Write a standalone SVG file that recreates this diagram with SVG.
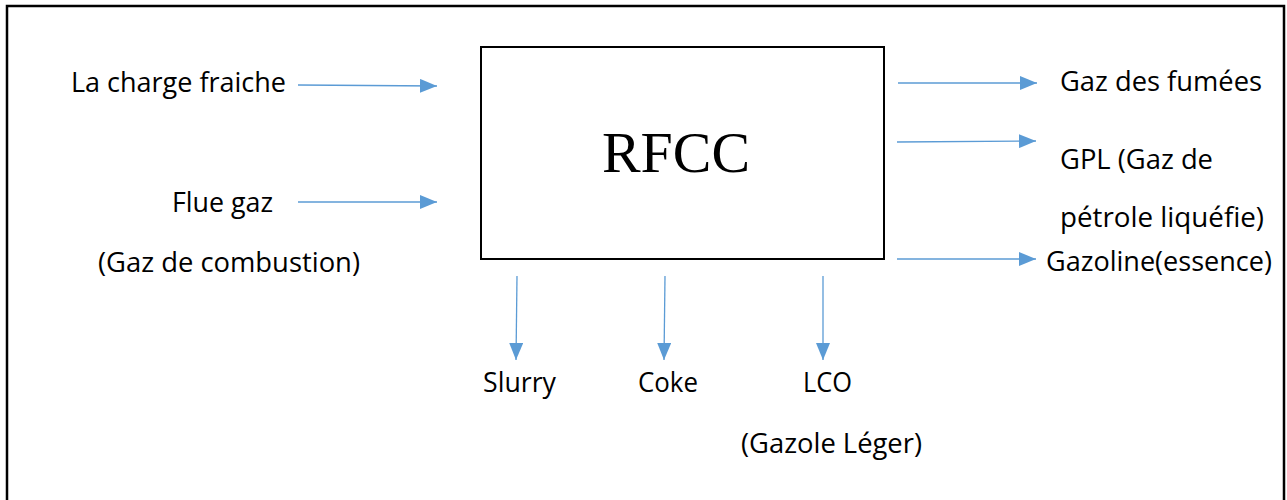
<svg xmlns="http://www.w3.org/2000/svg" width="1287" height="500" viewBox="0 0 1287 500">
  <style>
    .frame { fill: none; stroke: #000; stroke-width: 2.5; }
    .box { fill: #fff; stroke: #000; stroke-width: 2; }
    .flow { fill: none; stroke: #5B9BD5; stroke-width: 1.3; }
    .lbl { font-family: "Open Sans", "Noto Sans", sans-serif; font-size: 27px; fill: #000; }
    .title { font-family: "Liberation Serif", serif; font-size: 58px; fill: #000; }
  </style>
  <defs>
    <marker id="head" viewBox="0 0 17 14" refX="17" refY="7" markerWidth="17" markerHeight="14" markerUnits="userSpaceOnUse" orient="auto">
      <path d="M0,0 L17,7 L0,14 Z" fill="#5B9BD5"/>
    </marker>
  </defs>

  <rect width="1287" height="500" fill="#fff"/>
  <!-- outer border (open at the bottom edge) -->
  <path class="frame" d="M7,502 V6 H1284 V502"/>

  <g id="rfcc">
    <rect class="box" x="481" y="47" width="403" height="212"/>
    <text class="title" x="676" y="172" text-anchor="middle" textLength="148" lengthAdjust="spacingAndGlyphs">RFCC</text>
  </g>

  <g id="connectors">
    <line class="flow" x1="298" y1="85" x2="437" y2="86" marker-end="url(#head)"/>
    <line class="flow" x1="298" y1="202" x2="437" y2="202" marker-end="url(#head)"/>
    <line class="flow" x1="898" y1="83" x2="1037" y2="83" marker-end="url(#head)"/>
    <line class="flow" x1="897" y1="142" x2="1036" y2="141" marker-end="url(#head)"/>
    <line class="flow" x1="897" y1="259" x2="1036" y2="259" marker-end="url(#head)"/>
    <line class="flow" x1="517" y1="276" x2="516" y2="360" marker-end="url(#head)"/>
    <line class="flow" x1="665" y1="276" x2="664" y2="360" marker-end="url(#head)"/>
    <line class="flow" x1="823" y1="276" x2="823" y2="360" marker-end="url(#head)"/>
  </g>

  <g id="in-charge">
    <text class="lbl" x="71" y="92" textLength="215" lengthAdjust="spacingAndGlyphs">La charge fraiche</text>
  </g>
  <g id="in-flue">
    <text class="lbl" x="172" y="212" textLength="101" lengthAdjust="spacingAndGlyphs">Flue gaz</text>
    <text class="lbl" x="98" y="272" textLength="262" lengthAdjust="spacingAndGlyphs">(Gaz de combustion)</text>
  </g>
  <g id="out-fumees">
    <text class="lbl" x="1060" y="91" textLength="202" lengthAdjust="spacingAndGlyphs">Gaz des fumées</text>
  </g>
  <g id="out-gpl">
    <text class="lbl" x="1060" y="169" textLength="153" lengthAdjust="spacingAndGlyphs">GPL (Gaz de</text>
    <text class="lbl" x="1060" y="227" textLength="204" lengthAdjust="spacingAndGlyphs">pétrole liquéfie)</text>
  </g>
  <g id="out-gazoline">
    <text class="lbl" x="1046" y="271" textLength="226" lengthAdjust="spacingAndGlyphs">Gazoline(essence)</text>
  </g>
  <g id="out-slurry">
    <text class="lbl" x="483" y="392" textLength="73" lengthAdjust="spacingAndGlyphs">Slurry</text>
  </g>
  <g id="out-coke">
    <text class="lbl" x="638" y="392" textLength="60" lengthAdjust="spacingAndGlyphs">Coke</text>
  </g>
  <g id="out-lco">
    <text class="lbl" x="803" y="392" textLength="49" lengthAdjust="spacingAndGlyphs">LCO</text>
    <text class="lbl" x="741" y="453" textLength="181" lengthAdjust="spacingAndGlyphs">(Gazole Léger)</text>
  </g>
</svg>
